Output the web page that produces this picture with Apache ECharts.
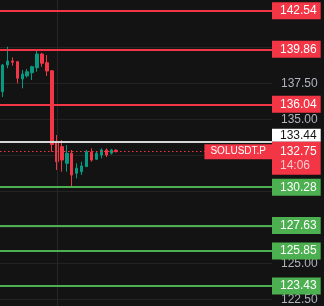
<!DOCTYPE html>
<html>
<head>
<meta charset="utf-8">
<script src="https://cdn.jsdelivr.net/npm/echarts@6/dist/echarts.min.js"></script>
<style>
html,body{margin:0;padding:0;background:#131313;}
#c{width:324px;height:306px;}
</style>
</head>
<body>
<div id="c"></div>
<script>
// ---- data ----
const slotCount = 55;
const categories = Array.from({length: slotCount}, (_, i) => String(i));
// [open, close, low, high]
const candles = [
  [136.92, 138.77, 136.55, 138.84],
  [138.77, 139.05, 138.54, 140.04],
  [139.05, 138.96, 138.72, 139.30],
  [139.00, 137.85, 137.50, 139.05],
  [137.80, 138.14, 137.15, 138.42],
  [138.01, 138.30, 137.89, 138.49],
  [138.23, 138.65, 137.73, 138.72],
  [138.58, 139.53, 138.30, 139.76],
  [139.53, 138.89, 138.65, 139.62],
  [138.93, 138.35, 138.01, 139.46],
  [138.37, 133.25, 132.75, 138.42],
  [133.44, 132.05, 131.48, 133.91],
  [133.10, 132.17, 131.36, 133.56],
  [131.94, 132.64, 131.36, 133.21],
  [132.64, 131.13, 130.32, 132.87],
  [131.25, 131.60, 130.90, 131.94],
  [131.36, 131.76, 131.13, 132.05],
  [131.71, 132.75, 131.69, 132.87],
  [132.71, 132.17, 132.05, 132.98],
  [132.22, 132.64, 132.17, 132.80],
  [132.52, 132.87, 132.29, 132.98],
  [132.87, 132.52, 132.38, 132.98],
  [132.64, 132.87, 132.55, 132.95],
  [132.85, 132.75, 132.70, 132.92]
];
const resistanceLevels = [142.54, 139.86, 136.04];
const supportLevels = [130.28, 127.63, 125.85, 123.43];
const markPrice = 133.44;
const lastPrice = 132.75;
const countdown = '14:06';
const symbolName = 'SOLUSDT.P';
const gridCategory = '11';
const yMin = 120, yMax = 145, yStep = 2.5;

// ---- styles ----
const RED = '#f23645', GREEN = '#4caf50';
const FONT = 'Liberation Sans, Arial, sans-serif';

function tag(v, bg, fg) {
  return {
    yAxis: v,
    lineStyle: {color: bg, width: 2, type: 'solid'},
    label: {
      show: true, position: 'insideEndBottom', distance: [0, 0],
      align: 'left', verticalAlign: 'middle',
      formatter: v.toFixed(2), backgroundColor: bg, color: fg,
      padding: [2, 4, 1, 8], lineHeight: 14, fontSize: 12, fontFamily: FONT
    }
  };
}

const levelData = [];
resistanceLevels.forEach(v => levelData.push(tag(v, RED, '#ffffff')));
supportLevels.forEach(v => levelData.push(tag(v, GREEN, '#ffffff')));
// mark price (white)
levelData.push({
  yAxis: markPrice,
  lineStyle: {color: '#d6d6d6', width: 2, type: 'solid'},
  label: {
    show: true, position: 'insideEndBottom', distance: [0, 0],
    align: 'left', verticalAlign: 'bottom',
    formatter: markPrice.toFixed(2), backgroundColor: '#ffffff', color: '#131313',
    padding: [1, 4, 0, 8], lineHeight: 12, fontSize: 12, fontFamily: FONT
  }
});
// last price dotted line with symbol label
levelData.push({
  yAxis: lastPrice,
  lineStyle: {color: RED, width: 1, type: [1.5, 2.5]},
  label: {
    show: true, position: 'insideEnd', distance: 0,
    formatter: symbolName, backgroundColor: RED, color: '#ffffff',
    padding: [2, 6, 1, 6], lineHeight: 12, fontSize: 10, fontFamily: FONT
  }
});

// last price tag with countdown (separate series)
const lastTag = [{
  yAxis: lastPrice,
  lineStyle: {color: 'rgba(0,0,0,0)', width: 1, type: 'solid'},
  label: {
    show: true, position: 'insideEndBottom', distance: [0, -10],
    align: 'left', verticalAlign: 'top',
    formatter: '{a|' + lastPrice.toFixed(2) + '}\n{b|' + countdown + '}',
    backgroundColor: RED, padding: [3, 4, 2, 8], lineHeight: 14,
    fontSize: 12, fontFamily: FONT, color: '#ffffff',
    rich: {
      a: {color: '#ffffff', fontSize: 12, lineHeight: 14, fontFamily: FONT},
      b: {color: '#f8c9ce', fontSize: 12, lineHeight: 14, fontFamily: FONT}
    }
  }
}];

const chart = echarts.init(document.getElementById('c'), null, {renderer: 'canvas'});
chart.setOption({
  backgroundColor: '#131313',
  animation: false,
  grid: {left: 0, right: 52, top: -24.72, bottom: -29.28, outerBoundsMode: 'none', containLabel: false},
  xAxis: {
    type: 'category', data: categories, boundaryGap: true,
    axisLine: {show: false}, axisTick: {show: false}, axisLabel: {show: false},
    splitLine: {show: false}
  },
  yAxis: {
    type: 'value', position: 'right', min: yMin, max: yMax, interval: yStep, scale: true,
    axisLine: {show: false}, axisTick: {show: false},
    axisLabel: {color: '#b2b5be', fontSize: 12, fontFamily: FONT, margin: 9,
      formatter: v => v.toFixed(2)},
    splitLine: {lineStyle: {color: '#232323', width: 1}}
  },
  series: [
    {
      type: 'line', data: [], z: 1, silent: true,
      markLine: {
        symbol: ['none', 'none'], silent: true, animation: false,
        label: {show: false},
        lineStyle: {color: '#262626', width: 1, type: 'solid'},
        data: [{xAxis: gridCategory}]
      }
    },
    {
      type: 'candlestick', z: 2, data: candles, barWidth: 3,
      itemStyle: {
        color: '#089981', color0: RED,
        borderColor: '#089981', borderColor0: RED, borderWidth: 1
      }
    },
    {
      type: 'line', data: [], z: 3, silent: true,
      markLine: {
        symbol: ['none', 'none'], silent: true, animation: false,
        data: levelData
      }
    },
    {
      type: 'line', data: [], z: 4, silent: true,
      markLine: {
        symbol: ['none', 'none'], silent: true, animation: false,
        data: lastTag
      }
    }
  ]
});
</script>
</body>
</html>
